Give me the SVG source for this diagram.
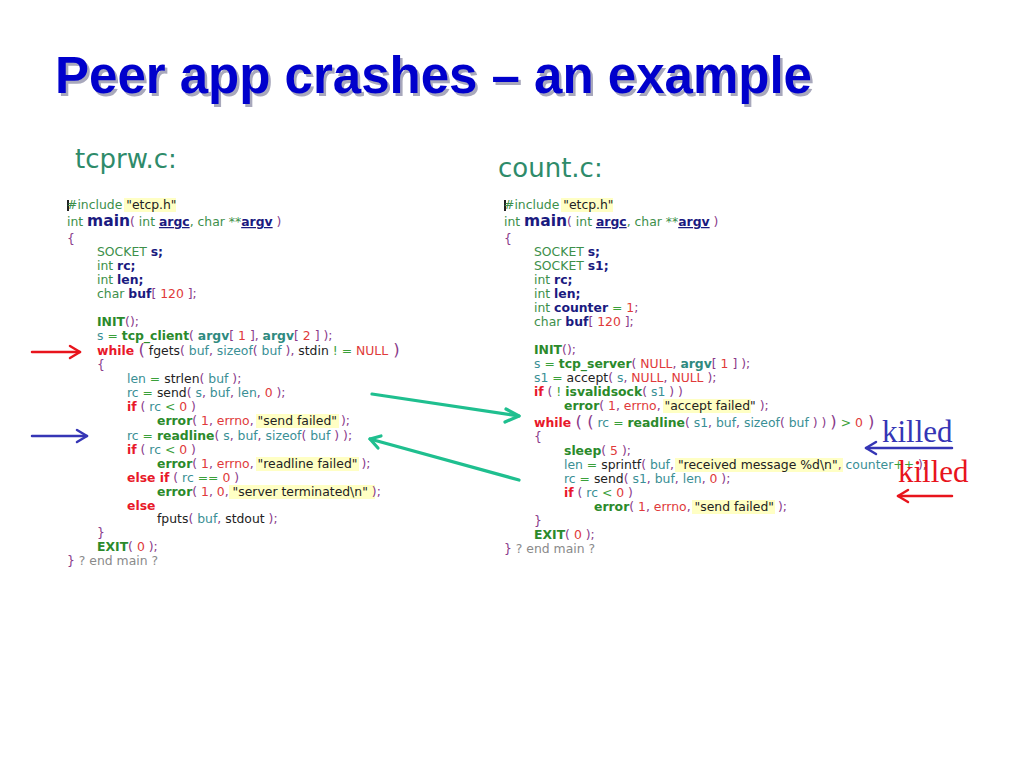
<svg xmlns="http://www.w3.org/2000/svg" width="1024" height="768" viewBox="0 0 1024 768">
<defs>
<style>
.code{font-family:"DejaVu Sans",Verdana,sans-serif;font-size:12.4px;white-space:pre}
.k{fill:#3d8f4a}
.d{fill:#1a1a80;font-weight:bold}
.u{text-decoration:underline}
.f{fill:#2b8a2b;font-weight:bold}
.v{fill:#3a8f95}
.vb{fill:#2f8a80;font-weight:bold}
.c{fill:#e8182a;font-weight:bold}
.n{fill:#e03a3a}
.p{fill:#8a3a8a}
.o{fill:#3aa03a}
.l{fill:#222}
.g{fill:#8a8a8a}
.m{fill:#1a1a80;font-weight:bold;font-size:15.5px}
.bp{font-size:16.5px}
.hl{fill:#ffffc4}
.title{font-family:"Liberation Sans",Arial,sans-serif;font-size:51px;font-weight:bold}
.fname{font-family:"DejaVu Sans",Verdana,sans-serif;font-size:26px;fill:#2e8b6a}
.killed{font-family:"Liberation Serif","Times New Roman",serif;font-size:31px}
.arr{fill:none;stroke-width:2.5;stroke-linecap:round;stroke-linejoin:round}
.garr{fill:none;stroke:#1fbf8f;stroke-width:3.2;stroke-linecap:round;stroke-linejoin:round}
</style>
</defs>
<rect width="1024" height="768" fill="#fff"/>

<g id="title">
<text class="title" x="57.5" y="95.5" fill="#a8a8bc">Peer app crashes – an example</text>
<text class="title" x="55" y="93" fill="#0000cc">Peer app crashes – an example</text>
</g>

<g id="label-tcprw"><text class="fname" x="75" y="168">tcprw.c:</text></g>
<g id="label-count"><text class="fname" x="498" y="177">count.c:</text></g>

<g id="code-tcprw" class="code">
<rect class="hl" x="124" y="198" width="52" height="14"/>
<rect class="hl" x="256" y="414" width="83" height="14"/>
<rect class="hl" x="256" y="457" width="103" height="14"/>
<rect class="hl" x="229" y="485" width="146" height="14"/>
<rect x="67" y="200" width="2" height="11" fill="#222"/>
<text x="67" y="209"><tspan class="k">#include </tspan><tspan class="l">"etcp.h"</tspan></text>
<text x="67" y="226"><tspan class="k">int </tspan><tspan class="m">main</tspan><tspan class="p">( </tspan><tspan class="k">int </tspan><tspan class="d u">argc</tspan><tspan class="k">, char **</tspan><tspan class="d u">argv</tspan><tspan class="p"> )</tspan></text>
<text x="67" y="243" class="p">{</text>
<text x="97" y="256"><tspan class="k">SOCKET </tspan><tspan class="d">s;</tspan></text>
<text x="97" y="270"><tspan class="k">int </tspan><tspan class="d">rc;</tspan></text>
<text x="97" y="284"><tspan class="k">int </tspan><tspan class="d">len;</tspan></text>
<text x="97" y="298"><tspan class="k">char </tspan><tspan class="d">buf</tspan><tspan class="p">[ </tspan><tspan class="n">120</tspan><tspan class="p"> ];</tspan></text>
<text x="97" y="326"><tspan class="f">INIT</tspan><tspan class="p">();</tspan></text>
<text x="97" y="340"><tspan class="v">s</tspan><tspan class="o"> = </tspan><tspan class="f">tcp_client</tspan><tspan class="p">( </tspan><tspan class="vb">argv</tspan><tspan class="p">[ </tspan><tspan class="n">1</tspan><tspan class="p"> ], </tspan><tspan class="vb">argv</tspan><tspan class="p">[ </tspan><tspan class="n">2</tspan><tspan class="p"> ] );</tspan></text>
<text x="97" y="355"><tspan class="c">while </tspan><tspan class="p bp">(</tspan><tspan class="l"> fgets</tspan><tspan class="p">( </tspan><tspan class="v">buf</tspan><tspan class="p">, </tspan><tspan class="v">sizeof</tspan><tspan class="p">( </tspan><tspan class="v">buf</tspan><tspan class="p"> ), </tspan><tspan class="l">stdin</tspan><tspan class="o"> ! = </tspan><tspan class="n">NULL</tspan><tspan class="p bp"> )</tspan></text>
<text x="97" y="369" class="p">{</text>
<text x="127" y="383"><tspan class="v">len</tspan><tspan class="o"> = </tspan><tspan class="l">strlen</tspan><tspan class="p">( </tspan><tspan class="v">buf</tspan><tspan class="p"> );</tspan></text>
<text x="127" y="397"><tspan class="v">rc</tspan><tspan class="o"> = </tspan><tspan class="l">send</tspan><tspan class="p">( </tspan><tspan class="v">s</tspan><tspan class="p">, </tspan><tspan class="v">buf</tspan><tspan class="p">, </tspan><tspan class="v">len</tspan><tspan class="p">, </tspan><tspan class="n">0</tspan><tspan class="p"> );</tspan></text>
<text x="127" y="411"><tspan class="c">if</tspan><tspan class="p"> ( </tspan><tspan class="v">rc</tspan><tspan class="o"> &lt; </tspan><tspan class="n">0</tspan><tspan class="p"> )</tspan></text>
<text x="157" y="425"><tspan class="f">error</tspan><tspan class="p">( </tspan><tspan class="n">1</tspan><tspan class="p">, </tspan><tspan class="n">errno</tspan><tspan class="p">, </tspan><tspan class="l">"send failed"</tspan><tspan class="p"> );</tspan></text>
<text x="127" y="440"><tspan class="v">rc</tspan><tspan class="o"> = </tspan><tspan class="f">readline</tspan><tspan class="p">( </tspan><tspan class="v">s</tspan><tspan class="p">, </tspan><tspan class="v">buf</tspan><tspan class="p">, </tspan><tspan class="v">sizeof</tspan><tspan class="p">( </tspan><tspan class="v">buf</tspan><tspan class="p"> ) );</tspan></text>
<text x="127" y="454"><tspan class="c">if</tspan><tspan class="p"> ( </tspan><tspan class="v">rc</tspan><tspan class="o"> &lt; </tspan><tspan class="n">0</tspan><tspan class="p"> )</tspan></text>
<text x="157" y="468"><tspan class="f">error</tspan><tspan class="p">( </tspan><tspan class="n">1</tspan><tspan class="p">, </tspan><tspan class="n">errno</tspan><tspan class="p">, </tspan><tspan class="l">"readline failed"</tspan><tspan class="p"> );</tspan></text>
<text x="127" y="482"><tspan class="c">else if</tspan><tspan class="p"> ( </tspan><tspan class="v">rc</tspan><tspan class="o"> == </tspan><tspan class="n">0</tspan><tspan class="p"> )</tspan></text>
<text x="157" y="496"><tspan class="f">error</tspan><tspan class="p">( </tspan><tspan class="n">1</tspan><tspan class="p">, </tspan><tspan class="n">0</tspan><tspan class="p">, </tspan><tspan class="l">"server terminated\n"</tspan><tspan class="p"> );</tspan></text>
<text x="127" y="510" class="c">else</text>
<text x="157" y="523"><tspan class="l">fputs</tspan><tspan class="p">( </tspan><tspan class="v">buf</tspan><tspan class="p">, </tspan><tspan class="l">stdout</tspan><tspan class="p"> );</tspan></text>
<text x="97" y="537" class="p">}</text>
<text x="97" y="551"><tspan class="f">EXIT</tspan><tspan class="p">( </tspan><tspan class="n">0</tspan><tspan class="p"> );</tspan></text>
<text x="67" y="565"><tspan class="p">}</tspan><tspan class="g"> ? end main ?</tspan></text>
</g>

<g id="code-count" class="code">
<rect class="hl" x="561" y="198" width="52" height="14"/>
<rect class="hl" x="663" y="399" width="88" height="14"/>
<rect class="hl" x="675" y="458" width="168" height="14"/>
<rect class="hl" x="692" y="500" width="83" height="14"/>
<rect x="504" y="200" width="2" height="11" fill="#222"/>
<text x="504" y="209"><tspan class="k">#include </tspan><tspan class="l">"etcp.h"</tspan></text>
<text x="504" y="226"><tspan class="k">int </tspan><tspan class="m">main</tspan><tspan class="p">( </tspan><tspan class="k">int </tspan><tspan class="d u">argc</tspan><tspan class="k">, char **</tspan><tspan class="d u">argv</tspan><tspan class="p"> )</tspan></text>
<text x="504" y="243" class="p">{</text>
<text x="534" y="256"><tspan class="k">SOCKET </tspan><tspan class="d">s;</tspan></text>
<text x="534" y="270"><tspan class="k">SOCKET </tspan><tspan class="d">s1;</tspan></text>
<text x="534" y="284"><tspan class="k">int </tspan><tspan class="d">rc;</tspan></text>
<text x="534" y="298"><tspan class="k">int </tspan><tspan class="d">len;</tspan></text>
<text x="534" y="312"><tspan class="k">int </tspan><tspan class="d">counter</tspan><tspan class="o"> = </tspan><tspan class="n">1</tspan><tspan class="p">;</tspan></text>
<text x="534" y="326"><tspan class="k">char </tspan><tspan class="d">buf</tspan><tspan class="p">[ </tspan><tspan class="n">120</tspan><tspan class="p"> ];</tspan></text>
<text x="534" y="354"><tspan class="f">INIT</tspan><tspan class="p">();</tspan></text>
<text x="534" y="368"><tspan class="v">s</tspan><tspan class="o"> = </tspan><tspan class="f">tcp_server</tspan><tspan class="p">( </tspan><tspan class="n">NULL</tspan><tspan class="p">, </tspan><tspan class="vb">argv</tspan><tspan class="p">[ </tspan><tspan class="n">1</tspan><tspan class="p"> ] );</tspan></text>
<text x="534" y="382"><tspan class="v">s1</tspan><tspan class="o"> = </tspan><tspan class="l">accept</tspan><tspan class="p">( </tspan><tspan class="v">s</tspan><tspan class="p">, </tspan><tspan class="n">NULL</tspan><tspan class="p">, </tspan><tspan class="n">NULL</tspan><tspan class="p"> );</tspan></text>
<text x="534" y="396"><tspan class="c">if</tspan><tspan class="p"> ( </tspan><tspan class="o">! </tspan><tspan class="f">isvalidsock</tspan><tspan class="p">( </tspan><tspan class="v">s1</tspan><tspan class="p"> ) )</tspan></text>
<text x="564" y="410"><tspan class="f">error</tspan><tspan class="p">( </tspan><tspan class="n">1</tspan><tspan class="p">, </tspan><tspan class="n">errno</tspan><tspan class="p">, </tspan><tspan class="l">"accept failed"</tspan><tspan class="p"> );</tspan></text>
<text x="534" y="427"><tspan class="c">while </tspan><tspan class="p bp">( (</tspan><tspan class="v"> rc</tspan><tspan class="o"> = </tspan><tspan class="f">readline</tspan><tspan class="p">( </tspan><tspan class="v">s1</tspan><tspan class="p">, </tspan><tspan class="v">buf</tspan><tspan class="p">, </tspan><tspan class="v">sizeof</tspan><tspan class="p">( </tspan><tspan class="v">buf</tspan><tspan class="p"> ) ) </tspan><tspan class="p bp">)</tspan><tspan class="o"> &gt; </tspan><tspan class="n">0</tspan><tspan class="p bp"> )</tspan></text>
<text x="534" y="441" class="p">{</text>
<text x="564" y="455"><tspan class="f">sleep</tspan><tspan class="p">( </tspan><tspan class="n">5</tspan><tspan class="p"> );</tspan></text>
<text x="564" y="469"><tspan class="v">len</tspan><tspan class="o"> = </tspan><tspan class="l">sprintf</tspan><tspan class="p">( </tspan><tspan class="v">buf</tspan><tspan class="p">, </tspan><tspan class="l">"received message %d\n"</tspan><tspan class="p">, </tspan><tspan class="v">counter</tspan><tspan class="o">++</tspan><tspan class="p"> );</tspan></text>
<text x="564" y="483"><tspan class="v">rc</tspan><tspan class="o"> = </tspan><tspan class="l">send</tspan><tspan class="p">( </tspan><tspan class="v">s1</tspan><tspan class="p">, </tspan><tspan class="v">buf</tspan><tspan class="p">, </tspan><tspan class="v">len</tspan><tspan class="p">, </tspan><tspan class="n">0</tspan><tspan class="p"> );</tspan></text>
<text x="564" y="497"><tspan class="c">if</tspan><tspan class="p"> ( </tspan><tspan class="v">rc</tspan><tspan class="o"> &lt; </tspan><tspan class="n">0</tspan><tspan class="p"> )</tspan></text>
<text x="594" y="511"><tspan class="f">error</tspan><tspan class="p">( </tspan><tspan class="n">1</tspan><tspan class="p">, </tspan><tspan class="n">errno</tspan><tspan class="p">, </tspan><tspan class="l">"send failed"</tspan><tspan class="p"> );</tspan></text>
<text x="534" y="525" class="p">}</text>
<text x="534" y="539"><tspan class="f">EXIT</tspan><tspan class="p">( </tspan><tspan class="n">0</tspan><tspan class="p"> );</tspan></text>
<text x="504" y="553"><tspan class="p">}</tspan><tspan class="g"> ? end main ?</tspan></text>
</g>

<g id="label-killed-blue"><text class="killed" x="882" y="442" fill="#3535b5">killed</text></g>
<g id="label-killed-red"><text class="killed" x="898" y="482" fill="#e8141c">killed</text></g>

<g id="connectors">
<g stroke="#e8141c" class="arr">
<path d="M32 352H80"/><path d="M70 346L80 352L70 358"/>
<path d="M952 496H898"/><path d="M908 490L898 496L908 502"/>
</g>
<g stroke="#3535b5" class="arr">
<path d="M32 436H87"/><path d="M77 430L87 436L77 442"/>
<path d="M952 448H866"/><path d="M876 442L866 448L876 454"/>
</g>
<path class="garr" d="M372 394L519 416"/>
<path class="garr" d="M506 409L519 416L505 422"/>
<path class="garr" d="M519 480L370 439"/>
<path class="garr" d="M381 436L370 439L378 448"/>
</g>
</svg>
